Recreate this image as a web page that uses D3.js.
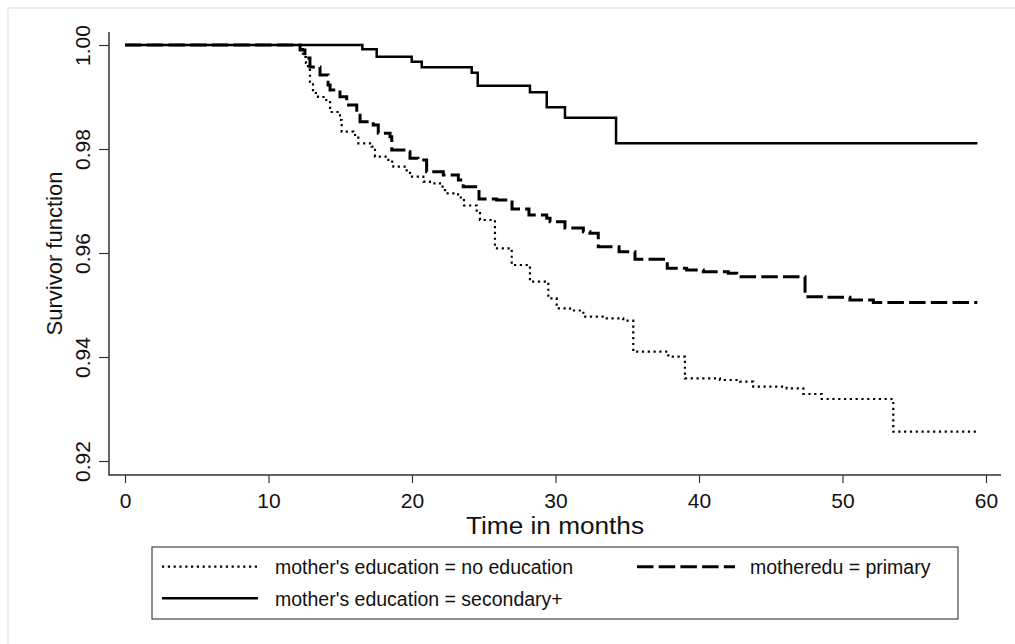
<!DOCTYPE html>
<html>
<head>
<meta charset="utf-8">
<script src="https://cdn.jsdelivr.net/npm/d3@7/dist/d3.min.js"></script>
<style>
  html, body { margin: 0; padding: 0; background: #ffffff; }
  svg { display: block; font-family: "Liberation Sans", Arial, sans-serif; }
</style>
</head>
<body>
<svg id="chart" width="1015" height="644"></svg>
<script>
// Kaplan-Meier survivor estimates by mother's education (times in months)
const noEduTime = [12.20, 12.40, 12.61, 12.75, 12.89, 13.10, 13.45, 13.94, 14.29, 14.98, 15.10, 15.91, 16.26,
  17.19, 17.42, 18.35, 18.70, 19.63, 19.86, 20.79, 21.25, 21.95, 22.30, 23.21, 23.62, 24.51, 24.74, 25.78,
  26.95, 28.22, 29.50, 30.08, 31.01, 31.94, 33.45, 34.72, 35.42, 37.86, 39.02, 41.46, 42.86, 43.78, 46.11,
  47.27, 48.55, 53.54];
const noEduSurv = [0.99923, 0.99769, 0.99654, 0.99519, 0.99288, 0.99077, 0.99000, 0.98942, 0.98712, 0.98558,
  0.98333, 0.98269, 0.98110, 0.98044, 0.97852, 0.97756, 0.97660, 0.97563, 0.97467, 0.97371, 0.97340, 0.97275,
  0.97148, 0.97067, 0.96913, 0.96794, 0.96635, 0.96090, 0.95769, 0.95448, 0.95129, 0.94937, 0.94894, 0.94775,
  0.94744, 0.94698, 0.94102, 0.94006, 0.93590, 0.93558, 0.93525, 0.93429, 0.93398, 0.93288, 0.93192, 0.92563];

const primaryTime = [12.20, 12.54, 12.89, 13.59, 14.15, 14.29, 14.98, 15.45, 16.15, 16.38, 17.30, 17.65, 18.47,
  18.59, 19.63, 19.86, 20.42, 21.02, 22.18, 23.23, 23.57, 24.67, 25.90, 26.97, 28.15, 29.39, 29.62, 30.66,
  31.94, 32.40, 32.98, 34.43, 35.54, 37.79, 39.14, 40.30, 42.04, 42.63, 47.39, 48.66, 50.52, 52.15];
const primarySurv = [0.99904, 0.99750, 0.99577, 0.99423, 0.99231, 0.99135, 0.99006, 0.98846, 0.98687, 0.98525,
  0.98462, 0.98302, 0.98237, 0.97981, 0.97948, 0.97821, 0.97788, 0.97563, 0.97500, 0.97404, 0.97275, 0.97038,
  0.97019, 0.96846, 0.96731, 0.96667, 0.96602, 0.96481, 0.96410, 0.96379, 0.96121, 0.96025, 0.95879, 0.95706,
  0.95673, 0.95640, 0.95610, 0.95544, 0.95160, 0.95148, 0.95096, 0.95048];

const secondaryTime = [16.54, 17.54, 19.98, 20.68, 24.16, 24.58, 28.22, 29.39, 30.66, 34.22];
const secondarySurv = [0.99917, 0.99775, 0.99679, 0.99571, 0.99467, 0.99217, 0.99090, 0.98802, 0.98602, 0.98110];

const followUpEnd = 59.4;

const xTicks = [0, 10, 20, 30, 40, 50, 60];
const yTicks = [0.92, 0.94, 0.96, 0.98, 1.00];

const legendLabels = [
  "mother's education = no education",
  "motheredu = primary",
  "mother's education = secondary+"
];

const svg = d3.select("#chart");

// light outer frame
svg.append("line").attr("x1", 8).attr("y1", 8).attr("x2", 1015).attr("y2", 8)
  .attr("stroke", "#e8eef2").attr("stroke-width", 2);
svg.append("line").attr("x1", 8).attr("y1", 8).attr("x2", 8).attr("y2", 644)
  .attr("stroke", "#e8eef2").attr("stroke-width", 2);

const x = d3.scaleLinear().domain([0, 60]).range([125, 986]);
const y = d3.scaleLinear().domain([0.92, 1.00]).range([461, 45]);

const plotLeft = 109, plotBottom = 475, plotTop = 32, plotRight = 1001;

// axes
const xAxis = svg.append("g").attr("transform", `translate(0,${plotBottom})`)
  .call(d3.axisBottom(x).tickValues(xTicks).tickSize(8).tickFormat(d3.format("d")));
xAxis.select(".domain").remove();
xAxis.selectAll(".tick line").attr("stroke", "#333").attr("stroke-width", 1.2);
xAxis.selectAll(".tick text").attr("y", 33).attr("dy", "0")
  .attr("font-size", 21).attr("fill", "#111").attr("font-family", "Liberation Sans, Arial, sans-serif");

const yAxis = svg.append("g").attr("transform", `translate(${plotLeft},0)`)
  .call(d3.axisLeft(y).tickValues(yTicks).tickSize(10).tickFormat(d3.format(".2f")));
yAxis.select(".domain").remove();
yAxis.selectAll(".tick line").attr("stroke", "#333").attr("stroke-width", 1.2);
yAxis.selectAll(".tick text")
  .attr("transform", "rotate(-90)")
  .attr("x", 0).attr("y", -19).attr("dy", "0")
  .attr("text-anchor", "middle")
  .attr("font-size", 21).attr("fill", "#111").attr("font-family", "Liberation Sans, Arial, sans-serif");

svg.append("path")
  .attr("d", `M${plotLeft},${plotTop}V${plotBottom}H${plotRight}`)
  .attr("fill", "none").attr("stroke", "#333").attr("stroke-width", 1.5);

// axis titles
svg.append("text").attr("x", (plotLeft + plotRight) / 2).attr("y", 534)
  .attr("text-anchor", "middle").attr("font-size", 23).attr("fill", "#111")
  .attr("textLength", 178).attr("lengthAdjust", "spacingAndGlyphs")
  .text("Time in months");
svg.append("text").attr("transform", `translate(62,${(plotTop + plotBottom) / 2}) rotate(-90)`)
  .attr("text-anchor", "middle").attr("font-size", 22).attr("fill", "#111")
  .text("Survivor function");

// step curves
function stepPoints(times, surv) {
  const pts = [[0, 1]];
  times.forEach((t, i) => pts.push([t, surv[i]]));
  pts.push([followUpEnd, surv[surv.length - 1]]);
  return pts;
}
const line = d3.line().x(d => x(d[0])).y(d => y(d[1])).curve(d3.curveStepAfter);

const series = [
  { pts: stepPoints(noEduTime, noEduSurv), dash: "2.2,3.6", width: 2.2 },
  { pts: stepPoints(primaryTime, primarySurv), dash: "16.5,5.2", width: 3 },
  { pts: stepPoints(secondaryTime, secondarySurv), dash: null, width: 2.5 }
];

series.forEach(s => {
  svg.append("path").datum(s.pts)
    .attr("d", line)
    .attr("fill", "none")
    .attr("stroke", "#000")
    .attr("stroke-width", s.width)
    .attr("stroke-dasharray", s.dash);
});

// legend
const lg = svg.append("g");
lg.append("rect").attr("x", 152).attr("y", 547).attr("width", 806).attr("height", 72)
  .attr("fill", "#fff").attr("stroke", "#444").attr("stroke-width", 1.2);

const legendItems = [
  { x1: 162, x2: 258, y: 566.7, tx: 275, ty: 574, label: legendLabels[0], s: series[0] },
  { x1: 637, x2: 735, y: 566.7, tx: 750, ty: 574, label: legendLabels[1], s: series[1] },
  { x1: 162, x2: 258, y: 598.3, tx: 275, ty: 605.5, label: legendLabels[2], s: series[2] }
];
legendItems.forEach(d => {
  lg.append("line").attr("x1", d.x1).attr("x2", d.x2).attr("y1", d.y).attr("y2", d.y)
    .attr("stroke", "#000").attr("stroke-width", d.s.width).attr("stroke-dasharray", d.s.dash);
  lg.append("text").attr("x", d.tx).attr("y", d.ty).attr("font-size", 19.5).attr("fill", "#111")
    .text(d.label);
});
</script>
</body>
</html>
